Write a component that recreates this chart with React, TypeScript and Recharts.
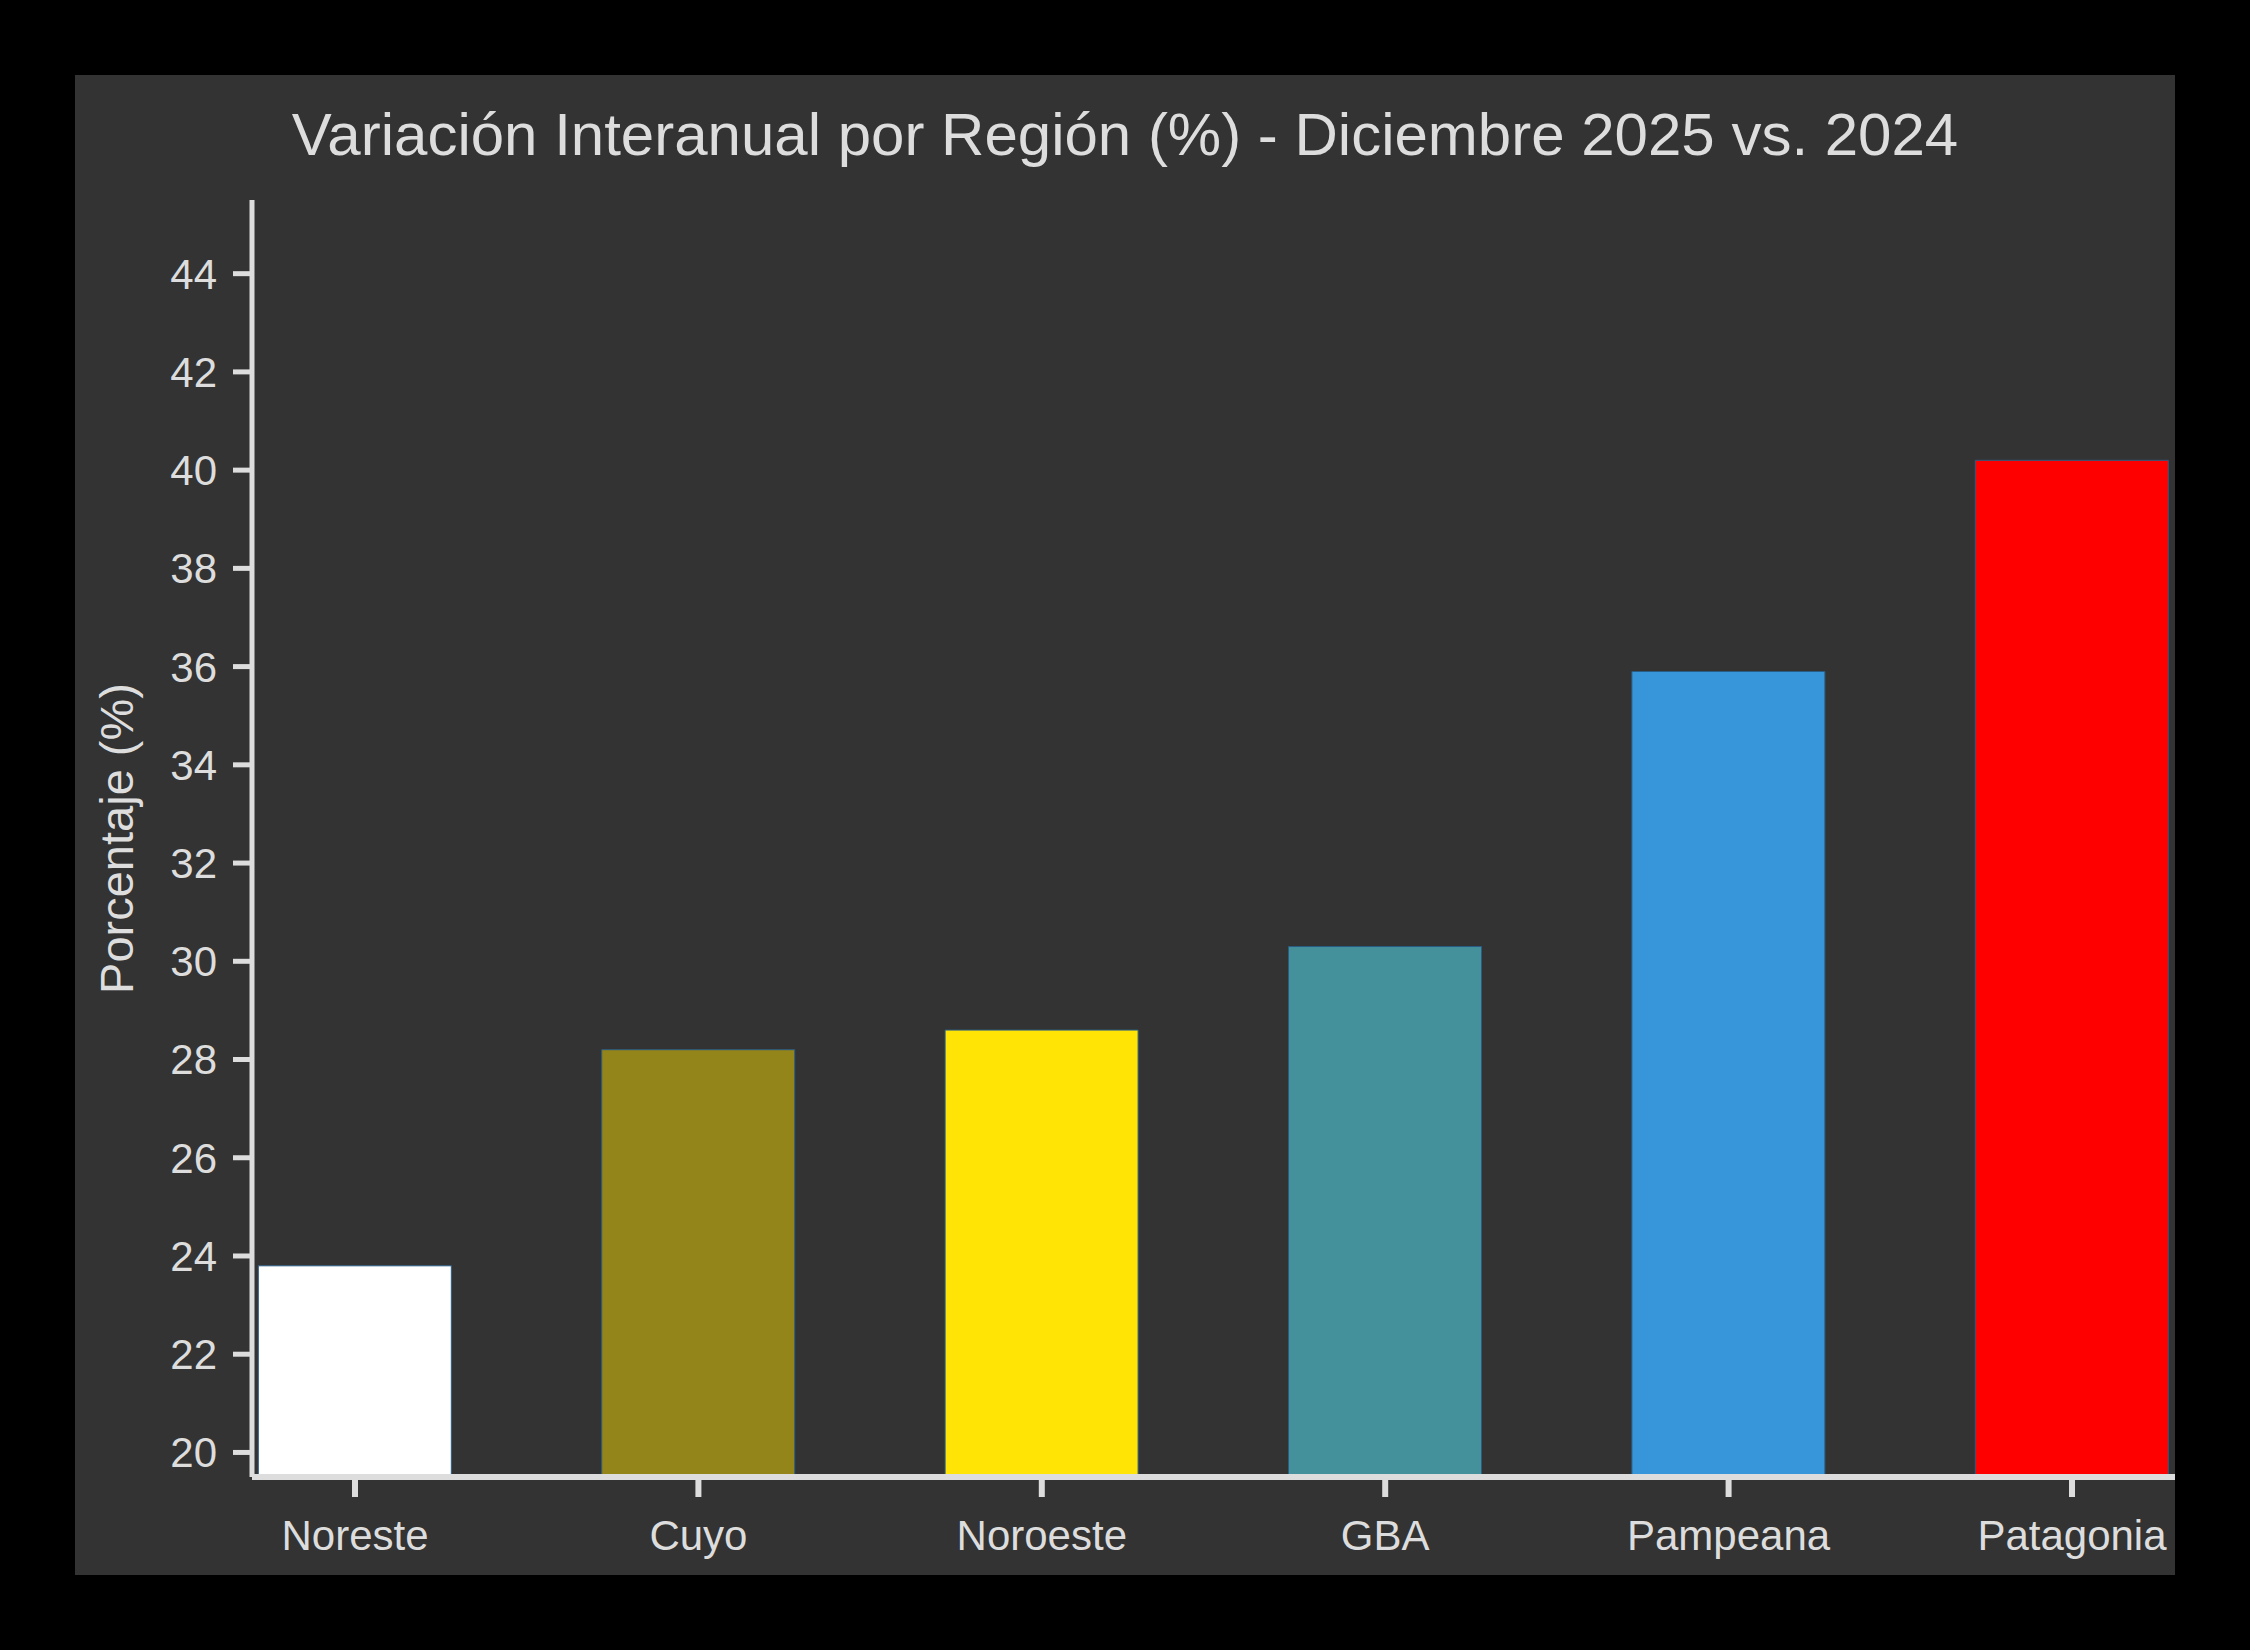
import React from 'react';
import { BarChart, Bar, XAxis, YAxis, Cell, Label } from 'recharts';

const regions = ['Noreste', 'Cuyo', 'Noroeste', 'GBA', 'Pampeana', 'Patagonia'];
const values = [23.8, 28.2, 28.6, 30.3, 35.9, 40.2];
const barColors = ['#ffffff', '#938519', '#ffe405', '#44919c', '#3796da', '#ff0000'];
const yTicks = [20, 22, 24, 26, 28, 30, 32, 34, 36, 38, 40, 42, 44];
const xTicks = [0, 1, 2, 3, 4, 5];

const title = 'Variación Interanual por Región (%) - Diciembre 2025 vs. 2024';
const yLabel = 'Porcentaje (%)';

const FONT = '"Liberation Sans", Arial, sans-serif';
const TXT = '#dddddd';

const data = regions.map((r, i) => ({ idx: i, region: r, value: values[i] }));

const YLabelContent = (props: any) => {
  const vb = props.viewBox || { x: 0, y: 0, width: 0, height: 0 };
  const cx = vb.x + 58;
  const cy = vb.y + vb.height / 2;
  return (
    <text
      x={cx}
      y={cy}
      transform={`rotate(-90, ${cx}, ${cy})`}
      textAnchor="middle"
      fill={TXT}
      fontSize={47}
      fontFamily={FONT}
    >
      {yLabel}
    </text>
  );
};

export default function App() {
  return (
    <div
      style={{
        position: 'absolute',
        left: 0,
        top: 0,
        width: 2250,
        height: 1650,
        background: '#000000',
        fontFamily: FONT,
      }}
    >
      <div
        style={{
          position: 'absolute',
          left: 75,
          top: 75,
          width: 2100,
          height: 1500,
          background: '#333333',
        }}
      >
        <div
          style={{
            position: 'absolute',
            left: 0,
            top: 30,
            width: 2100,
            textAlign: 'center',
            fontSize: 60,
            lineHeight: '60px',
            color: TXT,
            fontFamily: FONT,
            whiteSpace: 'nowrap',
          }}
        >
          {title}
        </div>
        <div style={{ position: 'absolute', left: 0, top: 0 }}>
          <BarChart
            width={2100}
            height={1500}
            data={data}
            margin={{ top: 125, right: 0, bottom: 0, left: 0 }}
          >
            <XAxis
              dataKey="idx"
              type="number"
              domain={[-0.3, 5.3]}
              ticks={xTicks}
              interval={0}
              allowDataOverflow
              tickFormatter={(v: number) => regions[v]}
              height={98}
              axisLine={{ stroke: TXT, strokeWidth: 6 }}
              tickLine={{ stroke: TXT, strokeWidth: 6 }}
              tickSize={20}
              tickMargin={23}
              tick={{ fill: TXT, fontSize: 42, fontFamily: FONT }}
            />
            <YAxis
              type="number"
              domain={[19.5, 45.5]}
              ticks={yTicks}
              interval={0}
              allowDataOverflow
              width={177}
              axisLine={{ stroke: TXT, strokeWidth: 5 }}
              tickLine={{ stroke: TXT, strokeWidth: 5 }}
              tickSize={19}
              tickMargin={16}
              tick={{ fill: TXT, fontSize: 42, fontFamily: FONT }}
            >
              <Label content={YLabelContent} />
            </YAxis>
            <Bar
              dataKey="value"
              barSize={193}
              isAnimationActive={false}
              stroke="#2a5d85"
              strokeWidth={1}
            >
              {data.map((d, i) => (
                <Cell key={d.region} fill={barColors[i]} />
              ))}
            </Bar>
          </BarChart>
        </div>
      </div>
    </div>
  );
}
